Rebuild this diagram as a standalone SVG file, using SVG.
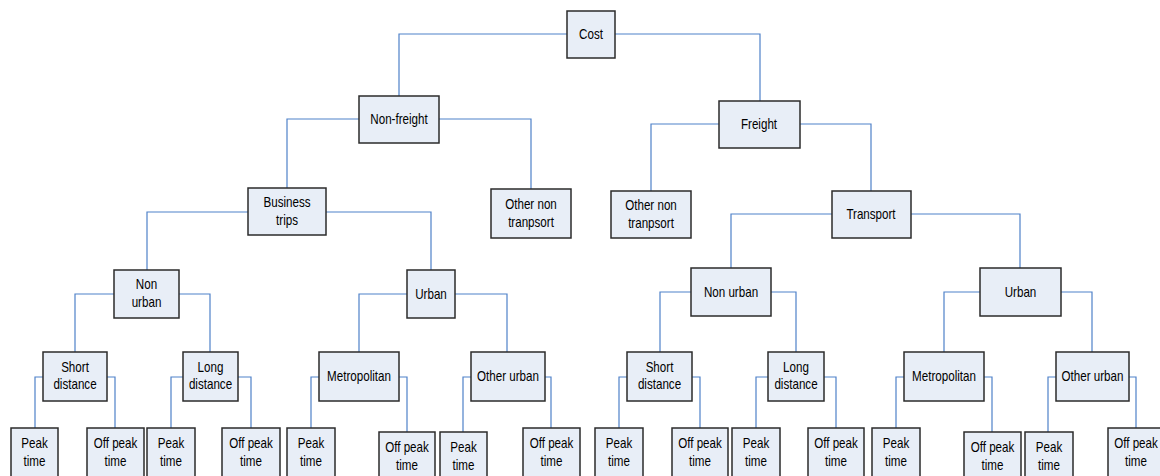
<svg xmlns="http://www.w3.org/2000/svg" width="1160" height="476" viewBox="0 0 1160 476">
<style>
.n rect{fill:#E8EEF7;stroke:#2b2b2b;stroke-width:1.5}
.n text{font-family:"Liberation Sans",Arial,sans-serif;font-size:14.5px;text-anchor:middle;fill:#000}
.c path{stroke:#4F81C9;fill:none;stroke-width:1.2}
</style>
<rect width="1160" height="476" fill="#fff"/>
<g id="connectors" class="c">
<path d="M567,34H399V96"/>
<path d="M615,34H760V101"/>
<path d="M359,119H287V188"/>
<path d="M439,119H531V189"/>
<path d="M719,124H651V191"/>
<path d="M800,124H871V191"/>
<path d="M248,212H147V270"/>
<path d="M326,212H431V270"/>
<path d="M832,214H731V268"/>
<path d="M911,214H1020V268"/>
<path d="M114,294H75V352"/>
<path d="M179,294H210V352"/>
<path d="M407,294H359V352"/>
<path d="M455,294H507V352"/>
<path d="M691,292H660V352"/>
<path d="M771,292H796V352"/>
<path d="M980,292H944V352"/>
<path d="M1061,292H1092V352"/>
<path d="M43,377H35V428"/>
<path d="M107,377H115V428"/>
<path d="M183,377H171V428"/>
<path d="M238,377H251V428"/>
<path d="M319,377H311V428"/>
<path d="M399,377H407V432"/>
<path d="M471,377H463V432"/>
<path d="M545,377H551V428"/>
<path d="M627,377H619V428"/>
<path d="M692,377H700V428"/>
<path d="M768,377H756V428"/>
<path d="M824,377H836V428"/>
<path d="M904,377H896V428"/>
<path d="M984,377H992V432"/>
<path d="M1056,377H1048V432"/>
<path d="M1129,377H1136V428"/>
</g>
<g id="cost" class="n"><rect x="567" y="11" width="48" height="47"/><text transform="translate(591 0) scale(0.8 1)" y="39">Cost</text></g>
<g id="nonfreight" class="n"><rect x="359" y="96" width="80" height="47"/><text transform="translate(399 0) scale(0.8 1)" y="124">Non-freight</text></g>
<g id="freight" class="n"><rect x="719" y="101" width="81" height="47"/><text transform="translate(759 0) scale(0.8 1)" y="129">Freight</text></g>
<g id="othernon1" class="n"><rect x="491" y="189" width="80" height="49"/><text transform="translate(531 0) scale(0.8 1)" y="209">Other non</text><text transform="translate(531 0) scale(0.8 1)" y="227">tranpsort</text></g>
<g id="business" class="n"><rect x="248" y="188" width="78" height="47"/><text transform="translate(287 0) scale(0.8 1)" y="207">Business</text><text transform="translate(287 0) scale(0.8 1)" y="225">trips</text></g>
<g id="othernon2" class="n"><rect x="611" y="191" width="80" height="47"/><text transform="translate(651 0) scale(0.8 1)" y="210">Other non</text><text transform="translate(651 0) scale(0.8 1)" y="228">tranpsort</text></g>
<g id="transport" class="n"><rect x="832" y="191" width="79" height="47"/><text transform="translate(871 0) scale(0.8 1)" y="219">Transport</text></g>
<g id="nonurban1" class="n"><rect x="114" y="270" width="65" height="48"/><text transform="translate(146.5 0) scale(0.8 1)" y="289">Non</text><text transform="translate(146.5 0) scale(0.8 1)" y="307">urban</text></g>
<g id="urban1" class="n"><rect x="407" y="270" width="48" height="48"/><text transform="translate(431 0) scale(0.8 1)" y="299">Urban</text></g>
<g id="nonurban2" class="n"><rect x="691" y="268" width="80" height="48"/><text transform="translate(731 0) scale(0.8 1)" y="297">Non urban</text></g>
<g id="urban2" class="n"><rect x="980" y="268" width="81" height="48"/><text transform="translate(1020.5 0) scale(0.8 1)" y="297">Urban</text></g>
<g id="short1" class="n"><rect x="43" y="352" width="64" height="49"/><text transform="translate(75 0) scale(0.8 1)" y="372">Short</text><text transform="translate(75 0) scale(0.8 1)" y="389">distance</text></g>
<g id="long1" class="n"><rect x="183" y="352" width="55" height="49"/><text transform="translate(210.5 0) scale(0.8 1)" y="372">Long</text><text transform="translate(210.5 0) scale(0.8 1)" y="389">distance</text></g>
<g id="metro1" class="n"><rect x="319" y="352" width="80" height="49"/><text transform="translate(359 0) scale(0.8 1)" y="381">Metropolitan</text></g>
<g id="otherurban1" class="n"><rect x="471" y="352" width="74" height="49"/><text transform="translate(508 0) scale(0.8 1)" y="381">Other urban</text></g>
<g id="short2" class="n"><rect x="627" y="352" width="65" height="49"/><text transform="translate(659.5 0) scale(0.8 1)" y="372">Short</text><text transform="translate(659.5 0) scale(0.8 1)" y="389">distance</text></g>
<g id="long2" class="n"><rect x="768" y="352" width="56" height="49"/><text transform="translate(796 0) scale(0.8 1)" y="372">Long</text><text transform="translate(796 0) scale(0.8 1)" y="389">distance</text></g>
<g id="metro2" class="n"><rect x="904" y="352" width="80" height="49"/><text transform="translate(944 0) scale(0.8 1)" y="381">Metropolitan</text></g>
<g id="otherurban2" class="n"><rect x="1056" y="352" width="73" height="49"/><text transform="translate(1092.5 0) scale(0.8 1)" y="381">Other urban</text></g>
<g id="peak1" class="n"><rect x="11" y="428" width="47" height="52"/><text transform="translate(34.5 0) scale(0.8 1)" y="448">Peak</text><text transform="translate(34.5 0) scale(0.8 1)" y="466">time</text></g>
<g id="offpeak1" class="n"><rect x="87" y="428" width="57" height="52"/><text transform="translate(115.5 0) scale(0.8 1)" y="448">Off peak</text><text transform="translate(115.5 0) scale(0.8 1)" y="466">time</text></g>
<g id="peak2" class="n"><rect x="147" y="428" width="48" height="52"/><text transform="translate(171 0) scale(0.8 1)" y="448">Peak</text><text transform="translate(171 0) scale(0.8 1)" y="466">time</text></g>
<g id="offpeak2" class="n"><rect x="222" y="428" width="58" height="52"/><text transform="translate(251 0) scale(0.8 1)" y="448">Off peak</text><text transform="translate(251 0) scale(0.8 1)" y="466">time</text></g>
<g id="peak3" class="n"><rect x="287" y="428" width="48" height="52"/><text transform="translate(311 0) scale(0.8 1)" y="448">Peak</text><text transform="translate(311 0) scale(0.8 1)" y="466">time</text></g>
<g id="offpeak3" class="n"><rect x="379" y="432" width="56" height="48"/><text transform="translate(407 0) scale(0.8 1)" y="452">Off peak</text><text transform="translate(407 0) scale(0.8 1)" y="470">time</text></g>
<g id="peak4" class="n"><rect x="440" y="432" width="47" height="48"/><text transform="translate(463.5 0) scale(0.8 1)" y="452">Peak</text><text transform="translate(463.5 0) scale(0.8 1)" y="470">time</text></g>
<g id="offpeak4" class="n"><rect x="523" y="428" width="57" height="52"/><text transform="translate(551.5 0) scale(0.8 1)" y="448">Off peak</text><text transform="translate(551.5 0) scale(0.8 1)" y="466">time</text></g>
<g id="peak5" class="n"><rect x="595" y="428" width="48" height="52"/><text transform="translate(619 0) scale(0.8 1)" y="448">Peak</text><text transform="translate(619 0) scale(0.8 1)" y="466">time</text></g>
<g id="offpeak5" class="n"><rect x="672" y="428" width="56" height="52"/><text transform="translate(700 0) scale(0.8 1)" y="448">Off peak</text><text transform="translate(700 0) scale(0.8 1)" y="466">time</text></g>
<g id="peak6" class="n"><rect x="732" y="428" width="48" height="52"/><text transform="translate(756 0) scale(0.8 1)" y="448">Peak</text><text transform="translate(756 0) scale(0.8 1)" y="466">time</text></g>
<g id="offpeak6" class="n"><rect x="808" y="428" width="56" height="52"/><text transform="translate(836 0) scale(0.8 1)" y="448">Off peak</text><text transform="translate(836 0) scale(0.8 1)" y="466">time</text></g>
<g id="peak7" class="n"><rect x="872" y="428" width="48" height="52"/><text transform="translate(896 0) scale(0.8 1)" y="448">Peak</text><text transform="translate(896 0) scale(0.8 1)" y="466">time</text></g>
<g id="offpeak7" class="n"><rect x="964" y="432" width="57" height="48"/><text transform="translate(992.5 0) scale(0.8 1)" y="452">Off peak</text><text transform="translate(992.5 0) scale(0.8 1)" y="470">time</text></g>
<g id="peak8" class="n"><rect x="1025" y="432" width="48" height="48"/><text transform="translate(1049 0) scale(0.8 1)" y="452">Peak</text><text transform="translate(1049 0) scale(0.8 1)" y="470">time</text></g>
<g id="offpeak8" class="n"><rect x="1108" y="428" width="56" height="52"/><text transform="translate(1136 0) scale(0.8 1)" y="448">Off peak</text><text transform="translate(1136 0) scale(0.8 1)" y="466">time</text></g>
</svg>
